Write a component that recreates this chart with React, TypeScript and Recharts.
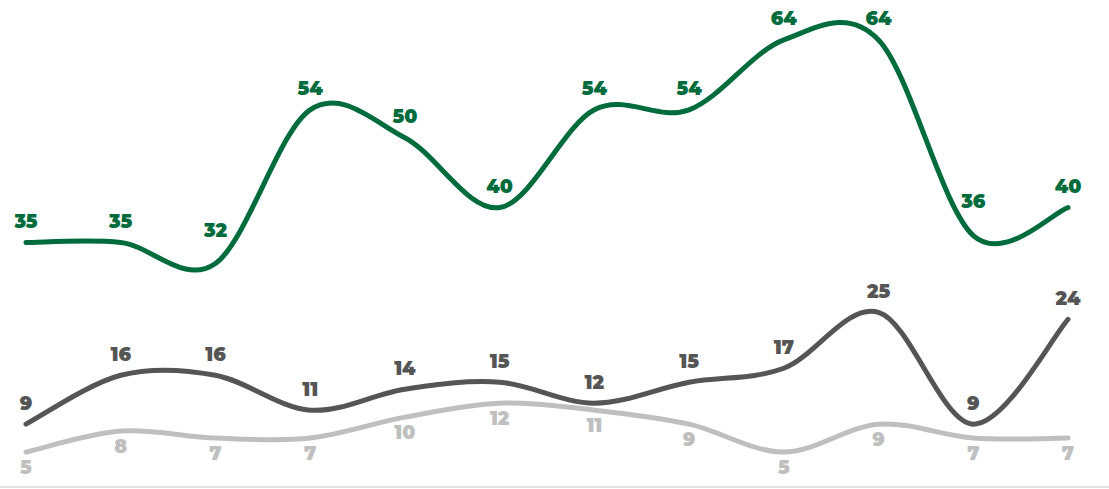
import React from "react";
import { LineChart, Line, XAxis, YAxis, LabelList } from "recharts";

const categories = ["1", "2", "3", "4", "5", "6", "7", "8", "9", "10", "11", "12"];
const greenValues = [35, 35, 32, 54, 50, 40, 54, 54, 64, 64, 36, 40];
const darkValues = [9, 16, 16, 11, 14, 15, 12, 15, 17, 25, 9, 24];
const lightValues = [5, 8, 7, 7, 10, 12, 11, 9, 5, 9, 7, 7];

const data = categories.map((c, i) => ({
  name: c,
  green: greenValues[i],
  dark: darkValues[i],
  light: lightValues[i],
}));

const FONT = "Montserrat, 'DejaVu Sans', sans-serif";

// labels that were nudged up in the original to clear the dip of the line
const greenLift: Record<number, number> = { 2: 11, 10: 13 };

// Excel-like smoothing (uniform Catmull-Rom as cubic beziers)
const smoothCurve = (context: any) => {
  let pts: [number, number][] = [];
  return {
    areaStart() {},
    areaEnd() {},
    lineStart() {
      pts = [];
    },
    point(x: number, y: number) {
      pts.push([+x, +y]);
    },
    lineEnd() {
      if (!pts.length) return;
      context.moveTo(pts[0][0], pts[0][1]);
      const t = 1 / 6;
      for (let i = 0; i < pts.length - 1; i++) {
        const p0 = pts[i - 1] || pts[i];
        const p1 = pts[i];
        const p2 = pts[i + 1];
        const p3 = pts[i + 2] || p2;
        context.bezierCurveTo(
          p1[0] + (p2[0] - p0[0]) * t,
          p1[1] + (p2[1] - p0[1]) * t,
          p2[0] - (p3[0] - p1[0]) * t,
          p2[1] - (p3[1] - p1[1]) * t,
          p2[0],
          p2[1]
        );
      }
    },
  };
};

const makeLabel = (color: string, dy: number, lift: Record<number, number> = {}) => (props: any) => {
  const { x, y, value, index } = props;
  return (
    <text
      x={x}
      y={y + dy - (lift[index] || 0)}
      textAnchor="middle"
      fill={color}
      fontSize={19}
      fontWeight={900}
      fontFamily={FONT}
    >
      {value}
    </text>
  );
};

export default function App() {
  return (
    <div style={{ position: "absolute", left: 0, top: 0, width: 1109, height: 489, background: "#fff" }}>
      <LineChart width={1109} height={489} data={data} margin={{ top: 12, right: 0, left: 0, bottom: 1 }}>
        <XAxis
          dataKey="name"
          tick={false}
          tickLine={false}
          height={1}
          axisLine={{ stroke: "#d9d9d9", strokeWidth: 1.5 }}
          padding={{ left: 26, right: 41 }}
        />
        <YAxis hide domain={[0, 68]} />
        <Line
          type={smoothCurve as any}
          dataKey="light"
          stroke="#bfbfbf"
          strokeWidth={5}
          strokeLinecap="round"
          dot={false}
          isAnimationActive={false}
        >
          <LabelList dataKey="light" content={makeLabel("#bfbfbf", 22)} />
        </Line>
        <Line
          type={smoothCurve as any}
          dataKey="dark"
          stroke="#555555"
          strokeWidth={5}
          strokeLinecap="round"
          dot={false}
          isAnimationActive={false}
        >
          <LabelList dataKey="dark" content={makeLabel("#555555", -14)} />
        </Line>
        <Line
          type={smoothCurve as any}
          dataKey="green"
          stroke="#006b3c"
          strokeWidth={5}
          strokeLinecap="round"
          dot={false}
          isAnimationActive={false}
        >
          <LabelList dataKey="green" content={makeLabel("#006b3c", -15, greenLift)} />
        </Line>
      </LineChart>
    </div>
  );
}
